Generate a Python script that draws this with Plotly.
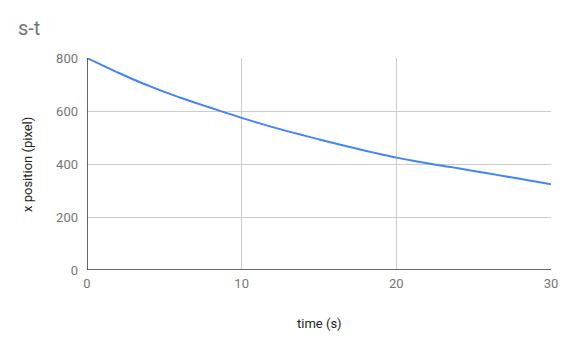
import plotly.graph_objects as go

time_s = list(range(0, 31))
x_position = [800, 772, 745, 719, 695, 672, 651, 631, 612, 593,
              574, 556, 539, 523, 508, 493, 478, 464, 450, 437,
              424, 413, 403, 393, 384, 374, 364, 354, 344, 334, 324]

x_ticks = [0, 10, 20, 30]
y_ticks = [0, 200, 400, 600, 800]

W, H = 567, 347
L, R, T, B = 87, 16, 58, 77

fig = go.Figure()
fig.add_trace(go.Scatter(x=time_s, y=x_position, mode="lines",
                         line=dict(color="#4285F4", width=2), line_shape="spline",
                         hoverinfo="skip"))

fig.update_layout(
    width=W, height=H,
    margin=dict(l=L, r=R, t=T, b=B, autoexpand=False),
    paper_bgcolor="white", plot_bgcolor="white",
    showlegend=False,
    font=dict(family="Roboto", color="#757575"),
    title=dict(text="s-t", x=18/W, xanchor="left", y=1-28/H, yanchor="middle",
               font=dict(family="Roboto", size=20, color="#757575")),
    xaxis=dict(range=[0, 30], tickvals=x_ticks, ticks="", showgrid=True,
               gridcolor="#cccccc", gridwidth=1, zeroline=False, automargin=False,
               showline=False, tickfont=dict(size=13, color="#757575"),
               ticklabelstandoff=4),
    yaxis=dict(range=[0, 800], tickvals=y_ticks, ticks="", showgrid=True,
               gridcolor="#cccccc", gridwidth=1, zeroline=False, automargin=False,
               showline=False, tickfont=dict(size=13, color="#757575"),
               ticklabelstandoff=8),
    annotations=[
        dict(text="time (s)", xref="paper", yref="paper", x=0.5, y=1 - (323 - T) / (H - T - B),
             showarrow=False, xanchor="center", yanchor="middle",
             font=dict(family="Roboto", size=13, color="#222222")),
        dict(text="x position (pixel)", xref="paper", yref="paper", x=-(L - 27) / (W - L - R), y=0.5,
             showarrow=False, xanchor="center", yanchor="middle", textangle=-90,
             font=dict(family="Roboto", size=13, color="#222222")),
    ],
)
fig.add_shape(type="line", xref="x", yref="y", x0=0, x1=30, y0=0, y1=0,
              line=dict(color="#333333", width=1.5))
fig.add_shape(type="line", xref="x", yref="y", x0=0, x1=0, y0=0, y1=800,
              line=dict(color="#333333", width=1.5))

fig.write_html("out.html")
